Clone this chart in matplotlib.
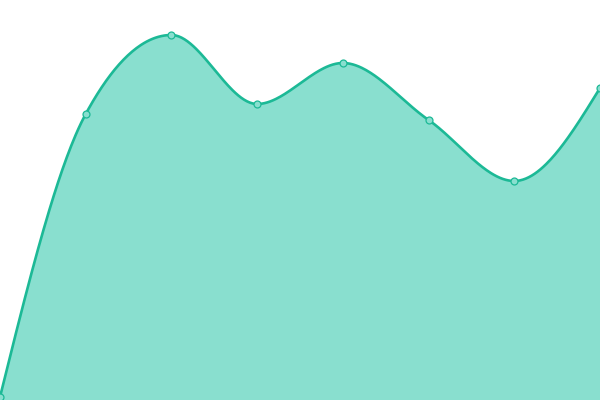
import numpy as np
import matplotlib
matplotlib.use("Agg")
import matplotlib.pyplot as plt

# data (pixel heights above the bottom edge)
labels = ["a", "b", "c", "d", "e", "f", "g", "h"]
values = [3, 286, 365, 296, 337, 280, 219, 312]

line_color = "#1cb996"
fill_color = "#89dfcf"


def monotone_slopes(x, y):
    # same rule as d3.curveMonotoneX
    n = len(x)
    t = np.zeros(n)
    for i in range(1, n - 1):
        h0 = x[i] - x[i - 1]
        h1 = x[i + 1] - x[i]
        s0 = (y[i] - y[i - 1]) / h0
        s1 = (y[i + 1] - y[i]) / h1
        p = (s0 * h1 + s1 * h0) / (h0 + h1)
        t[i] = (np.sign(s0) + np.sign(s1)) * min(abs(s0), abs(s1), 0.5 * abs(p))
    t[0] = (3 * (y[1] - y[0]) / (x[1] - x[0]) - t[1]) / 2
    t[-1] = (3 * (y[-1] - y[-2]) / (x[-1] - x[-2]) - t[-2]) / 2
    return t


def smooth(x, y, steps=60):
    t = monotone_slopes(x, y)
    xs, ys = [], []
    for i in range(len(x) - 1):
        dx = x[i + 1] - x[i]
        u = np.linspace(0, 1, steps)
        h00 = 2 * u**3 - 3 * u**2 + 1
        h10 = u**3 - 2 * u**2 + u
        h01 = -2 * u**3 + 3 * u**2
        h11 = u**3 - u**2
        xs.append(x[i] + u * dx)
        ys.append(h00 * y[i] + h10 * dx * t[i] + h01 * y[i + 1] + h11 * dx * t[i + 1])
    return np.concatenate(xs), np.concatenate(ys)


x = np.arange(len(values), dtype=float)
y = np.array(values, dtype=float)
sx, sy = smooth(x, y)

fig = plt.figure(figsize=(6, 4), dpi=100)
ax = fig.add_axes([0, 0, 1, 1])
ax.fill_between(sx, sy, 0, color=fill_color, linewidth=0)
ax.plot(sx, sy, color=line_color, linewidth=1.9, solid_capstyle="round")
ax.plot(x, y, linestyle="none", marker="o", markersize=5,
        markerfacecolor=fill_color, markeredgecolor=line_color, markeredgewidth=0.9)
ax.set_xlim(0, len(values) - 1)
ax.set_ylim(0, 400)
ax.axis("off")

fig.savefig("out.png", dpi=100)
